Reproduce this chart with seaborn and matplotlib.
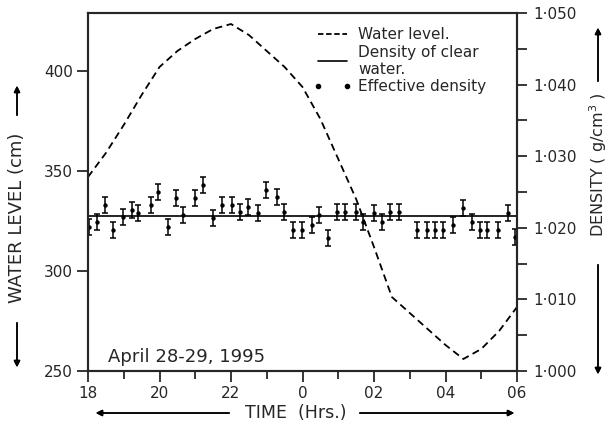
#!/usr/bin/env python3
import numpy as np
import pandas as pd
import matplotlib
matplotlib.use("Agg")
import matplotlib.pyplot as plt
import seaborn as sns
from matplotlib.lines import Line2D
from matplotlib.ticker import FixedLocator, MultipleLocator, FuncFormatter

# ------------------------------------------------------------------
# Data (hours after 18:00 on April 28)
# ------------------------------------------------------------------
hours_wl = [0, 0.5, 1, 1.5, 2, 2.5, 3, 3.5, 4, 4.5, 5, 5.5, 6, 6.5,
            7, 7.5, 8, 8.5, 9, 9.5, 10, 10.5, 11, 11.5, 12]
water_level = [347, 359, 373, 388, 402, 410, 416, 421, 423.5, 418, 410, 402, 392, 376,
               356, 336, 312, 287, 279, 271, 263, 256, 261, 270, 282]

hours_den = [0.03, 0.25, 0.48, 0.70, 0.98, 1.23, 1.40, 1.76, 1.96, 2.24, 2.46, 2.66,
             2.99, 3.22, 3.50, 3.75, 4.03, 4.25, 4.48, 4.76, 4.98, 5.29, 5.48, 5.73,
             5.99, 6.27, 6.46, 6.71, 6.97, 7.19, 7.50, 7.69, 8.00, 8.22, 8.45, 8.70,
             9.20, 9.48, 9.71, 9.93, 10.21, 10.49, 10.74, 10.96, 11.16, 11.47, 11.75, 11.94]
eff_density = [1.0201, 1.0208, 1.0232, 1.0197, 1.0215, 1.0225, 1.0221, 1.0232, 1.0250, 1.0201, 1.0242, 1.0218,
               1.0242, 1.0260, 1.0214, 1.0232, 1.0232, 1.0222, 1.0229, 1.0221, 1.0253, 1.0243, 1.0222, 1.0197,
               1.0197, 1.0204, 1.0218, 1.0186, 1.0222, 1.0222, 1.0222, 1.0208, 1.0221, 1.0208, 1.0222, 1.0222,
               1.0197, 1.0197, 1.0197, 1.0197, 1.0204, 1.0228, 1.0208, 1.0197, 1.0197, 1.0197, 1.0221, 1.0187]
density_err = 0.0011
clear_water_density = 1.0216

hour_ticks = [0, 2, 4, 6, 8, 10, 12]
hour_labels = ["18", "20", "22", "0", "02", "04", "06"]
level_ticks = [250, 300, 350, 400]

# ------------------------------------------------------------------
# Style
# ------------------------------------------------------------------
sns.set_style("ticks")
plt.rcParams["font.family"] = ["DejaVu Sans"]
plt.rcParams["axes.linewidth"] = 1.5

fig = plt.figure(figsize=(6.13, 4.25), dpi=100)
ax = fig.add_axes([88 / 613, 1 - 371 / 425, 429 / 613, 358 / 425])
ax2 = ax.twinx()

wl_df = pd.DataFrame({"hour": hours_wl, "level": water_level})
den_df = pd.DataFrame({"hour": hours_den, "density": eff_density})

# water level (dashed)
sns.lineplot(data=wl_df, x="hour", y="level", ax=ax, color="black",
             linewidth=1.3, legend=False)
ax.lines[0].set_dashes([4, 2.5])

# density of clear water + effective density with error bars
ax2.axhline(clear_water_density, color="black", linewidth=1.2)
ax2.errorbar(den_df["hour"], den_df["density"], yerr=density_err, fmt="none",
             ecolor="black", elinewidth=1.1, capsize=2, capthick=1.1)
sns.scatterplot(data=den_df, x="hour", y="density", ax=ax2, color="black",
                s=10, edgecolor="black", linewidth=0, legend=False)

# ------------------------------------------------------------------
# Axes
# ------------------------------------------------------------------
ax.set_xlim(0, 12)
ax.set_ylim(250, 429)
ax2.set_ylim(1.000, 1.050)

ax.xaxis.set_major_locator(FixedLocator(hour_ticks))
ax.set_xticklabels(hour_labels)
ax.xaxis.set_minor_locator(MultipleLocator(1))
ax.yaxis.set_major_locator(FixedLocator(level_ticks))

ax2.yaxis.set_major_locator(MultipleLocator(0.01))
ax2.yaxis.set_minor_locator(MultipleLocator(0.005))
ax2.yaxis.set_major_formatter(FuncFormatter(lambda v, p: f"{v:.3f}".replace(".", "\u00b7")))

for a in (ax, ax2):
    a.set_xlabel("")
    a.set_ylabel("")
    for s in a.spines.values():
        s.set_linewidth(1.5)
ax.tick_params(axis="both", which="major", direction="out", length=8, width=1.3,
               labelsize=11, pad=3)
ax.tick_params(axis="x", which="minor", direction="out", length=6, width=1.3)
ax2.tick_params(axis="y", which="major", direction="out", length=7, width=1.3,
                labelsize=11, pad=5)
ax2.tick_params(axis="y", which="minor", direction="out", length=7, width=1.3)

# ------------------------------------------------------------------
# Legend
# ------------------------------------------------------------------
h_wl = Line2D([], [], color="black", linewidth=1.3, dashes=[3, 1.5])
h_cl = Line2D([], [], color="black", linewidth=1.2)
h_ef = Line2D([], [], color="black", linestyle="none", marker="o", markersize=3)
leg = ax2.legend([h_wl, h_cl, h_ef],
                 ["Water level.", "Density of clear\nwater.", "Effective density"],
                 loc="upper left", bbox_to_anchor=(0.5245, 0.96), frameon=False,
                 fontsize=11, handlelength=2.5, handletextpad=0.45, borderpad=0,
                 borderaxespad=0, labelspacing=0.15, numpoints=2)

ax.text(0.047, 0.04, "April 28-29, 1995", transform=ax.transAxes,
        fontsize=13, va="center", ha="left")

# ------------------------------------------------------------------
# Axis titles with arrows (figure pixel coordinates)
# ------------------------------------------------------------------
W, H = 613, 425
def fx(x): return x / W
def fy(y): return 1 - y / H
arrow = dict(arrowstyle="-|>", color="black", lw=1.1, mutation_scale=9)

fig.text(fx(17), fy(218), "WATER LEVEL (cm)", rotation=90, ha="center", va="center", fontsize=13)
fig.add_artist(plt.annotate("", xy=(fx(17), fy(83)), xytext=(fx(17), fy(118)),
                            xycoords="figure fraction", arrowprops=arrow))
fig.add_artist(plt.annotate("", xy=(fx(17), fy(370)), xytext=(fx(17), fy(320)),
                            xycoords="figure fraction", arrowprops=arrow))

fig.text(fx(598), fy(165), "DENSITY ( g/cm$^3$ )", rotation=90, ha="center", va="center", fontsize=11.5)
fig.add_artist(plt.annotate("", xy=(fx(598), fy(25)), xytext=(fx(598), fy(84)),
                            xycoords="figure fraction", arrowprops=arrow))
fig.add_artist(plt.annotate("", xy=(fx(598), fy(377)), xytext=(fx(598), fy(262)),
                            xycoords="figure fraction", arrowprops=arrow))

fig.text(fx(296), fy(413), "TIME  (Hrs.)", ha="center", va="center", fontsize=12.5)
fig.add_artist(plt.annotate("", xy=(fx(93), fy(413)), xytext=(fx(232), fy(413)),
                            xycoords="figure fraction", arrowprops=arrow))
fig.add_artist(plt.annotate("", xy=(fx(517), fy(413)), xytext=(fx(357), fy(413)),
                            xycoords="figure fraction", arrowprops=arrow))

fig.savefig("out.png", dpi=100)
